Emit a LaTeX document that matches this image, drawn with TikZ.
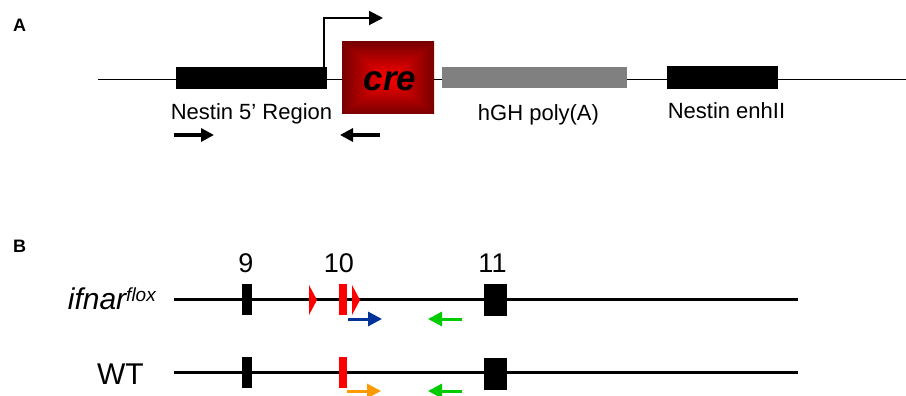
\documentclass[tikz,border=0pt]{standalone}
\usepackage{fontspec}
\setmainfont{Liberation Sans}
\usetikzlibrary{arrows.meta}
\definecolor{dred}{RGB}{120,0,0}
\definecolor{cred}{RGB}{255,0,0}
\definecolor{exgray}{RGB}{128,128,128}
\definecolor{pblue}{RGB}{0,51,153}
\definecolor{pgreen}{RGB}{0,204,0}
\definecolor{porange}{RGB}{255,153,0}
\begin{document}
\begin{tikzpicture}[x=1pt,y=-1pt,
  box/.style={inner sep=0pt, outer sep=0pt, draw=none},
  lbl/.style={inner sep=0pt, anchor=base, font=\fontsize{22}{24}\selectfont},
  panel/.style={inner sep=0pt, anchor=base west, font=\fontsize{18}{20}\selectfont\bfseries},
  numlbl/.style={inner sep=0pt, anchor=base, font=\fontsize{27}{30}\selectfont},
  genelbl/.style={inner sep=0pt, anchor=base east, font=\fontsize{30}{32}\selectfont},
  primerA/.style={line width=3.5pt, -{Triangle[length=13pt,width=13pt]}},
  primerB/.style={line width=3pt, -{Triangle[length=14pt,width=14pt]}},
  lox/.style={fill=cred, draw=none},
  ]
\useasboundingbox (0,0) rectangle (906,396);

% ---------------- Panel A ----------------
\node[panel] (pA) at (13,32) {A};
\coordinate (aL) at (98,79.5);
\coordinate (aR) at (906,79.5);
\draw[line width=1.5pt] (aL) -- (aR);

\node[box, fill=black, minimum width=151pt, minimum height=22pt] (nes) at (251.5,78) {};
\node[box, fill=exgray, minimum width=185pt, minimum height=21pt] (hgh) at (534.5,77.5) {};
\node[box, fill=black, minimum width=111pt, minimum height=23pt] (enh) at (722.5,77.5) {};

% cre box with rectangular gradient
\shade[top color=dred, bottom color=cred] (342,42) rectangle (434,78.6);
\shade[top color=cred, bottom color=dred] (342,77.4) rectangle (434,114);
\begin{scope}
  \clip (342,42) -- (342,114) -- (388,78) -- cycle;
  \shade[left color=dred, right color=cred] (342,42) rectangle (388.5,114);
\end{scope}
\begin{scope}
  \clip (434,42) -- (434,114) -- (388,78) -- cycle;
  \shade[left color=cred, right color=dred] (387.5,42) rectangle (434,114);
\end{scope}
\node[box, minimum width=92pt, minimum height=72pt] (cre) at (388,78) {};
\node[inner sep=0pt, anchor=base, font=\fontsize{35}{36}\selectfont\bfseries\itshape] (cretxt) at (390,90.5) {cre};

% promoter arrow
\coordinate (prom) at (383,18);
\draw[line width=2pt, -{Triangle[length=14pt,width=14pt]}] ([xshift=-3pt]nes.north east) |- (prom);

% labels
\node[lbl] (l1) at (251.5,120) {Nestin 5’ Region};
\node[lbl] (l2) at (538.5,120.5) {hGH poly(A)};
\node[lbl] (l3) at (726.5,118) {Nestin enhII};

% primers
\coordinate (pf1) at (174,135); \coordinate (pf2) at (214,135);
\draw[primerA] (pf1) -- (pf2);
\coordinate (pr1) at (380,135); \coordinate (pr2) at (340,135);
\draw[primerA] (pr1) -- (pr2);

% ---------------- Panel B ----------------
\node[panel] (pB) at (13,252) {B};

\node[numlbl] (n9) at (246,272) {9};
\node[numlbl] (n10) at (339,272) {10};
\node[numlbl] (n11) at (492.5,272) {11};

% flox allele
\node[genelbl] (flox) at (156,309) {\itshape ifnar\raisebox{8pt}{\fontsize{19}{20}\selectfont flox}};
\coordinate (b1L) at (174,299.5); \coordinate (b1R) at (798,299.5);
\draw[line width=2.5pt] (b1L) -- (b1R);
\node[box, fill=black, minimum width=10pt, minimum height=31pt] (f9) at (247,299.5) {};
\node[box, fill=cred, minimum width=8pt, minimum height=31pt] (f10) at (343,299.5) {};
\node[box, fill=black, minimum width=23pt, minimum height=32pt] (f11) at (495.5,300) {};
\fill[lox] (309,285) -- (317,300) -- (309,315) -- cycle;
\fill[lox] (352,285) -- (360,300) -- (352,315) -- cycle;
\coordinate (fb1) at (348,319); \coordinate (fb2) at (382,319);
\draw[primerB, pblue] (fb1) -- (fb2);
\coordinate (fg1) at (462,319); \coordinate (fg2) at (428,319);
\draw[primerB, pgreen] (fg1) -- (fg2);

% WT allele
\node[genelbl] (wt) at (144,384) {WT};
\coordinate (b2L) at (174,372.7); \coordinate (b2R) at (798,372.7);
\draw[line width=2.5pt] (b2L) -- (b2R);
\node[box, fill=black, minimum width=10pt, minimum height=31pt] (w9) at (247,372.5) {};
\node[box, fill=cred, minimum width=8pt, minimum height=31pt] (w10) at (343,372.5) {};
\node[box, fill=black, minimum width=23pt, minimum height=32pt] (w11) at (495.5,374) {};
\coordinate (wo1) at (347,391); \coordinate (wo2) at (381,391);
\draw[primerB, porange] (wo1) -- (wo2);
\coordinate (wg1) at (462,391); \coordinate (wg2) at (428,391);
\draw[primerB, pgreen] (wg1) -- (wg2);
\end{tikzpicture}
\end{document}
